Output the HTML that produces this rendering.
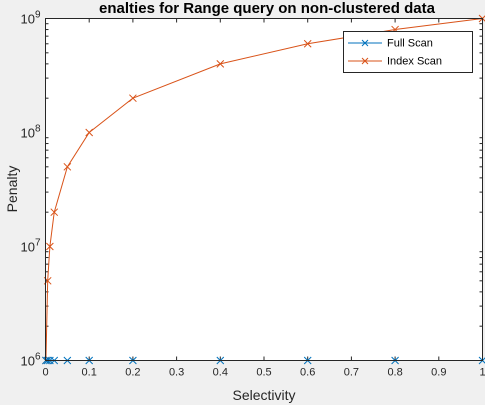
<!DOCTYPE html>
<html><head><meta charset="utf-8"><style>
body{margin:0;background:#f0f0f0;font-family:"Liberation Sans",sans-serif;}
svg{display:block}
</style></head><body>
<svg id="chart" width="485" height="405" xmlns="http://www.w3.org/2000/svg" font-family="Liberation Sans, sans-serif">
<rect x="0" y="0" width="485" height="405" fill="#f0f0f0"/>
<rect x="45.5" y="18.5" width="437" height="342" fill="#fff"/>
<g id="grid"></g>
<g id="series"></g>
<rect x="45.5" y="18.5" width="437" height="342" fill="none" stroke="#262626" stroke-width="1"/>
<text x="267" y="13" text-anchor="middle" font-size="15" font-weight="bold" fill="#000">enalties for Range query on non-clustered data</text>
<text x="264" y="400" text-anchor="middle" font-size="14" fill="#262626">Selectivity</text>
<text x="0" y="0" transform="translate(17,189) rotate(-90)" text-anchor="middle" font-size="14" fill="#262626">Penalty</text>
<g>
<rect x="343.5" y="31.5" width="129" height="41" fill="#fff" stroke="#262626"/>
<g>
<line x1="348" y1="43" x2="382" y2="43" stroke="#0072bd"/>
<path d="M362,40L368,46M362,46L368,40" stroke="#0072bd"/>
<text x="387" y="46.5" font-size="11" fill="#000">Full Scan</text></g>
<g>
<line x1="348" y1="61" x2="382" y2="61" stroke="#d95319"/>
<path d="M362,58L368,64M362,64L368,58" stroke="#d95319"/>
<text x="387" y="64.5" font-size="11" fill="#000">Index Scan</text></g>
</g>
</svg>
<script>
const selectivity=[0.001,0.005,0.01,0.02,0.05,0.1,0.2,0.4,0.6,0.8,1.0];
const fullScan=[1e6,1e6,1e6,1e6,1e6,1e6,1e6,1e6,1e6,1e6,1e6];
const indexScan=[1e6,5e6,1e7,2e7,5e7,1e8,2e8,4e8,6e8,8e8,1e9];
const xTicks=[0,0.1,0.2,0.3,0.4,0.5,0.6,0.7,0.8,0.9,1];
const xTickLabels=["0","0.1","0.2","0.3","0.4","0.5","0.6","0.7","0.8","0.9","1"];
const yDecades=[6,7,8,9];
const L=45.5,R=482.5,T=18.5,B=360.5;
const xs=v=>L+v*(R-L);
const ys=v=>B-(Math.log10(v)-6)/3*(B-T);
const NS="http://www.w3.org/2000/svg";
const g=document.getElementById('grid'),s=document.getElementById('series');
function mk(t,a,p){const e=document.createElementNS(NS,t);for(const k in a)e.setAttribute(k,a[k]);p.appendChild(e);return e;}
xTicks.forEach((v,i)=>{
 const x=xs(v);
 const t=mk('line',{x1:x,y1:B,x2:x,y2:B-4,stroke:'#262626'},g);
 
 
 const tt=mk('line',{x1:x,y1:T,x2:x,y2:T+4,stroke:'#262626'},g);
 
 
 const l=mk('text',{x:x,y:B+15,'text-anchor':'middle','font-size':11,fill:'#262626'},g);
 l.textContent=xTickLabels[i];
 
 
});
yDecades.forEach(d=>{
 const y=ys(Math.pow(10,d));
 const l=mk('text',{x:L-5,y:y+5,'text-anchor':'end','font-size':13,fill:'#262626'},g);
 l.innerHTML='10<tspan dy="-6" font-size="10">'+d+'</tspan>';
 
 
 if(d<9)for(let m=2;m<=9;m++){
  const yy=ys(m*Math.pow(10,d));
  const t=mk('line',{x1:L,y1:yy,x2:L+3,y2:yy,stroke:'#262626'},g);
  
  
  const t2=mk('line',{x1:R,y1:yy,x2:R-3,y2:yy,stroke:'#262626'},g);
  
  
 }
});
function series(vals,color,name){
 const pts=selectivity.map((v,i)=>xs(v)+','+ys(vals[i])).join(' ');
 const p=mk('polyline',{points:pts,fill:'none',stroke:color,'stroke-width':1},s);
 
 
 selectivity.forEach((v,i)=>{
  const x=xs(v),y=ys(vals[i]),r=3.5;
  const m=mk('path',{d:`M${x-r},${y-r}L${x+r},${y+r}M${x-r},${y+r}L${x+r},${y-r}`,stroke:color,'stroke-width':1},s);
  
  
 });
}
series(indexScan,'#d95319','index-scan');
series(fullScan,'#0072bd','full-scan');
</script>
</body></html>
